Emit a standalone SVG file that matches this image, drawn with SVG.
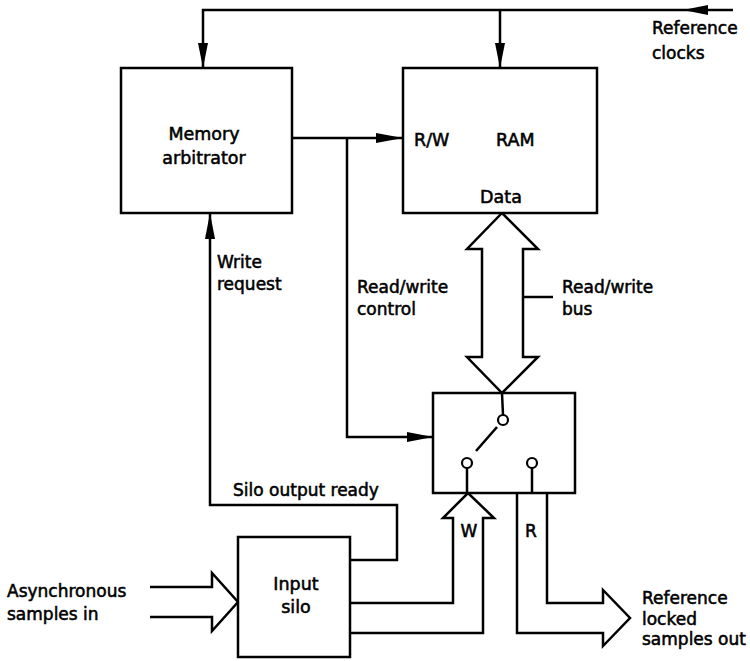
<svg xmlns="http://www.w3.org/2000/svg" width="750" height="661" viewBox="0 0 750 661">
<style>
.box{fill:#fff;stroke:#000;stroke-width:2.5}
.ln{fill:none;stroke:#000;stroke-width:2.5;stroke-linejoin:miter}
.hollow{fill:#fff;stroke:#000;stroke-width:2.5;stroke-linejoin:miter}
.ah{fill:#000;stroke:none}
.ct{fill:#fff;stroke:#000;stroke-width:2.2}
text{font-family:"DejaVu Sans","Liberation Sans",sans-serif;font-size:17px;fill:#000;stroke:#000;stroke-width:0.55}
.m{text-anchor:middle}
.b{font-size:17.5px}
</style>

<g id="connectors">
<!-- reference clocks bus -->
<path class="ln" d="M733,10 L203,10 L203,68"/>
<path class="ah" d="M683,10 L708,5 L708,15 Z"/>
<path class="ah" d="M203,68 L198,43 L208,43 Z"/>
<path class="ln" d="M500,10 L500,68"/>
<path class="ah" d="M500,68 L495,43 L505,43 Z"/>
<!-- arbitrator to R/W -->
<path class="ln" d="M292,138 L403,138"/>
<path class="ah" d="M403,138 L376,133 L376,143 Z"/>
<!-- read/write control -->
<path class="ln" d="M347,138 L347,437 L433,437"/>
<path class="ah" d="M433,437 L407,432 L407,442 Z"/>
<!-- write request / silo output ready -->
<path class="ln" d="M350,560 L397,560 L397,505 L210,505 L210,213"/>
<path class="ah" d="M210,213 L205,239 L215,239 Z"/>
<!-- read/write bus -->
<path class="hollow" d="M502,213 L538,249 L523,249 L523,357 L538,357 L502,393 L467,357 L482,357 L482,249 L467,249 Z"/>
<path class="ln" d="M523,297 L553,297"/>
<!-- W path -->
<path class="hollow" d="M350,603 L453,603 L453,518 L443,518 L468,493 L494,518 L483,518 L483,633 L350,633"/>
<!-- R path -->
<path class="hollow" d="M517,493 L517,633 L603,633 L603,646 L630,618 L603,590 L603,603 L547,603 L547,493"/>
<!-- asynchronous samples in -->
<path class="hollow" d="M150,587 L212,587 L212,573 L238,602 L212,631 L212,617 L150,617"/>
</g>

<g id="memory-arbitrator">
<rect class="box" x="121" y="68" width="171" height="145"/>
<text class="m b" x="204" y="140">Memory</text>
<text class="m b" x="204" y="164">arbitrator</text>
</g>

<g id="ram">
<rect class="box" x="403" y="68" width="194" height="145"/>
<text class="b" x="414" y="146">R/W</text>
<text class="b" x="496" y="146">RAM</text>
<text class="m b" x="501" y="203">Data</text>
</g>

<g id="switch">
<rect class="box" x="433" y="393" width="142" height="100"/>
<path class="ln" d="M502,393 L503,415"/>
<circle class="ct" cx="503" cy="420" r="5"/>
<path class="ln" d="M497,427 L476,451"/>
<circle class="ct" cx="467" cy="463" r="5"/>
<path class="ln" d="M467,468 L467,493"/>
<circle class="ct" cx="532" cy="463" r="5"/>
<path class="ln" d="M532,468 L532,493"/>
</g>

<g id="input-silo">
<rect class="box" x="238" y="537" width="112" height="120"/>
<text class="m b" x="296" y="590">Input</text>
<text class="m b" x="296" y="613">silo</text>
</g>

<g id="labels">
<text x="652" y="34">Reference</text>
<text x="652" y="59">clocks</text>
<text x="217" y="268">Write</text>
<text x="217" y="290">request</text>
<text x="357" y="293">Read/write</text>
<text x="357" y="315">control</text>
<text x="562" y="293">Read/write</text>
<text x="562" y="315">bus</text>
<text x="233" y="496">Silo output ready</text>
<text x="7" y="597">Asynchronous</text>
<text x="7" y="620">samples in</text>
<text class="m" x="469" y="537">W</text>
<text class="m" x="531" y="537">R</text>
<text x="642" y="604">Reference</text>
<text x="642" y="625">locked</text>
<text x="642" y="645">samples out</text>
</g>
</svg>
